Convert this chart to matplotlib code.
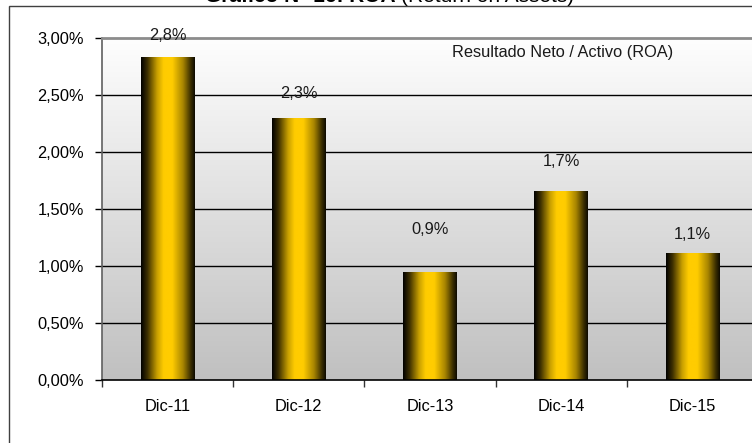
import numpy as np
import matplotlib
matplotlib.use("Agg")
import matplotlib.pyplot as plt
from matplotlib.colors import LinearSegmentedColormap
from matplotlib.patches import Rectangle

plt.rcParams['font.family'] = ['Liberation Sans', 'DejaVu Sans']

categories = ["Dic-11", "Dic-12", "Dic-13", "Dic-14", "Dic-15"]
roa = [2.83, 2.30, 0.95, 1.66, 1.11]
value_labels = ["2,8%", "2,3%", "0,9%", "1,7%", "1,1%"]
y_ticks = [0.0, 0.5, 1.0, 1.5, 2.0, 2.5, 3.0]
y_tick_labels = ["0,00%", "0,50%", "1,00%", "1,50%", "2,00%", "2,50%", "3,00%"]
series_name = "Resultado Neto / Activo (ROA)"
label_offsets_pt = [10, 12, 25, 16, 8]

W, H = 752, 443
FS = 11.8
fig = plt.figure(figsize=(W / 100, H / 100), dpi=100)
fig.patch.set_facecolor("white")

# outer chart border
fig.add_artist(Rectangle((8.5 / W, -0.1), 2.0, 1.1 - 6.5 / H, transform=fig.transFigure,
                         fill=False, edgecolor="#404040", linewidth=1.0))

ax = fig.add_axes([102 / W, (H - 380) / H, (758 - 102) / W, (380 - 38) / H])
ax.set_xlim(-0.5, len(categories) - 0.5)
ax.set_ylim(0, 3.0)

# plot area gradient
grad = np.linspace(0, 1, 256).reshape(-1, 1)
bg_cmap = LinearSegmentedColormap.from_list("bg", ["#c0c0c0", "#fefefe"])
ax.imshow(grad, aspect="auto", cmap=bg_cmap, origin="lower",
          extent=[-0.5, len(categories) - 0.5, 0, 3.0], zorder=0)

for yv in y_ticks[1:-1]:
    ax.axhline(yv, color="black", lw=1.0, zorder=1)

bar_cmap = LinearSegmentedColormap.from_list(
    "bar", [(0.0, "#000000"), (0.12, "#3d2f00"), (0.3, "#c9a000"), (0.42, "#ffcc00"),
            (0.58, "#ffcc00"), (0.78, "#a88500"), (0.92, "#3d3000"), (1.0, "#0d0a00")])
hgrad = np.linspace(0, 1, 256).reshape(1, -1)
x = np.arange(len(categories))
bars = ax.bar(x, roa, width=0.41, facecolor="none", edgecolor="none", zorder=2)
for b in bars:
    x0, y0, w, h = b.get_x(), b.get_y(), b.get_width(), b.get_height()
    im = ax.imshow(hgrad, aspect="auto", cmap=bar_cmap, extent=[x0, x0 + w, y0, y0 + h], zorder=2)
    im.set_clip_path(b)

ax.set_xlim(-0.5, len(categories) - 0.5)
ax.set_ylim(0, 3.0)

for xi, v, lab, off in zip(x, roa, value_labels, label_offsets_pt):
    ax.annotate(lab, (xi, v), xytext=(0, off), textcoords="offset points",
                ha="center", va="bottom", fontsize=FS, color="#1a1a1a", zorder=4,
                annotation_clip=False)

ax.set_yticks(y_ticks)
ax.set_yticklabels(y_tick_labels, fontsize=FS)
ax.set_xticks(x)
ax.set_xticklabels(categories, fontsize=FS)
ax.set_xticks(np.arange(len(categories) + 1) - 0.5, minor=True)
ax.tick_params(axis="x", which="major", length=0, pad=14)
ax.tick_params(axis="x", which="minor", length=5, width=1, direction="out", color="#333333")
ax.tick_params(axis="y", length=5, width=1, direction="out", pad=8, color="black")

ax.spines["top"].set_color("#8c8c8c")
ax.spines["top"].set_linewidth(2)
ax.spines["left"].set_color("#606060")
ax.spines["left"].set_linewidth(1.2)
ax.spines["bottom"].set_color("black")
ax.spines["bottom"].set_linewidth(1.2)
ax.spines["right"].set_visible(False)
for sp in ax.spines.values():
    sp.set_zorder(3)

ax.text(0.533, 0.98, series_name, transform=ax.transAxes, ha="left", va="top",
        fontsize=FS, color="#1a1a1a", zorder=4)

# title (clipped at top in the reference)
t1 = fig.text(205 / W, 1 - 2 / H, "Gráfico N° 16: ROA ", ha="left", va="baseline",
              fontsize=15, fontweight="bold")
fig.canvas.draw()
ax.annotate("(Return on Assets)", xy=(1, 0), xycoords=t1, ha="left", va="bottom",
            fontsize=15, annotation_clip=False)

fig.savefig("out.png", dpi=100)
